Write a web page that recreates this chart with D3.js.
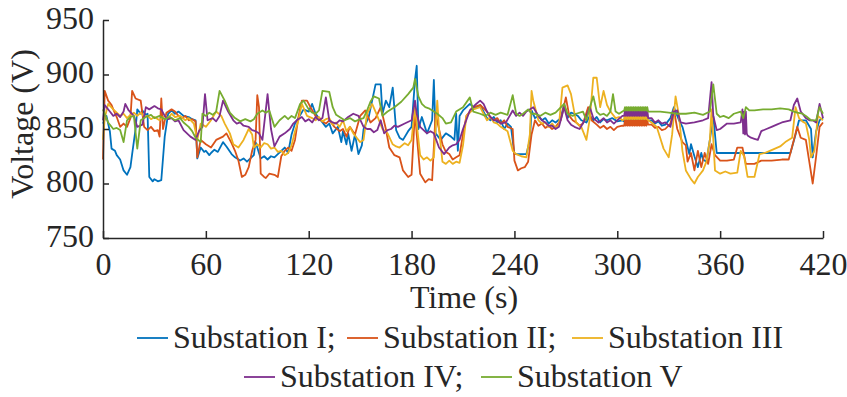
<!DOCTYPE html>
<meta charset="utf-8">
<head>
<style>
body { margin: 0; background: #fff; }
svg { display: block; }
text { font-family: "Liberation Serif", "Times New Roman", serif; fill: #262626; }
.axis text { font-size: 32px; font-family: "Liberation Serif", "Times New Roman", serif; fill: #262626; }
.axis path, .axis line { stroke: #262626; stroke-width: 1.5px; }
.series { fill: none; stroke-width: 1.8px; stroke-linejoin: round; }
</style>
<script src="https://d3js.org/d3.v7.min.js"></script>
</head>
<body>
<svg width="847" height="397"></svg>
<script>

// time (s), voltage (V)
var substationI = [[0,855],[2,862],[4,848],[5,832],[7,830],[8,826],[10,822],[11,817],[12,812],[14,808],[16,815],[17,827],[19,850],[20,868],[22,864],[23,867],[25,863],[26,864],[27,806],[29,802],[30,804],[32,802],[34,803],[36,843],[38,864],[40,867],[42,864],[44,866],[47,862],[50,861],[52,859],[54,858],[55,823],[57,833],[59,829],[60,830],[62,826],[63,828],[65,831],[67,829],[70,838],[72,834],[75,827],[77,824],[80,821],[82,823],[84,820],[86,823],[88,826],[89,838],[90,833],[92,823],[94,825],[96,822],[98,825],[100,824],[102,827],[104,830],[106,833],[108,828],[110,845],[112,855],[114,860],[117,868],[120,866],[122,873],[124,864],[127,858],[130,852],[132,855],[134,846],[137,852],[139,838],[140,848],[142,836],[143,846],[145,830],[147,845],[149,827],[151,835],[152,850],[155,861],[157,876],[159,891],[162,891],[163,864],[165,876],[167,870],[169,888],[171,849],[173,842],[175,840],[178,848],[180,852],[182,895],[183,908],[184,850],[186,861],[189,846],[192,858],[193,895],[194,846],[197,840],[200,846],[203,843],[205,840],[206,864],[207,830],[208,862],[210,867],[214,873],[217,869],[220,872],[222,866],[224,860],[226,858],[228,861],[230,856],[232,858],[234,850],[236,855],[238,852],[240,827],[243,827],[247,827],[249,840],[250,867],[252,860],[254,862],[256,858],[258,860],[260,855],[262,858],[264,856],[267,860],[269,873],[271,860],[273,865],[275,864],[277,862],[279,858],[282,856],[284,862],[286,858],[288,861],[290,856],[292,859],[294,858],[297,860],[300,857],[303,858],
  [320,858],[322,855],[324,857],[326,853],[328,854],[331,860],[333,870],[336,858],[338,852],[340,840],[342,827],[343,836],[345,825],[347,815],[349,828],[350,822],[352,820],[354,840],[356,862],[358,828],[365,828],[375,828],[385,828],[395,828],[401,828],[404,845],[406,858],[410,858],[413,850],[414,824],[416,848],[418,858],[420,860]];

var substationII = [[0,822],[1,885],[3,876],[5,872],[6,868],[8,861],[10,852],[12,855],[14,852],[16,860],[17,885],[19,878],[22,876],[24,852],[26,849],[28,852],[30,848],[32,849],[33,843],[34,878],[35,850],[37,865],[40,868],[42,866],[44,862],[46,860],[48,862],[50,858],[52,859],[54,857],[55,824],[57,840],[60,836],[63,833],[66,840],[70,843],[72,846],[75,837],[77,830],[79,821],[81,806],[83,808],[85,815],[87,830],[89,840],[90,881],[91,870],[92,809],[94,806],[95,805],[97,809],[100,808],[102,806],[104,825],[106,830],[108,833],[110,830],[112,840],[114,861],[116,876],[119,876],[121,870],[124,862],[127,858],[130,855],[132,858],[135,852],[138,848],[140,850],[142,843],[144,852],[147,845],[150,862],[153,867],[156,856],[159,860],[162,870],[165,850],[167,833],[170,826],[173,824],[175,812],[178,806],[180,808],[182,867],[183,845],[185,809],[188,801],[190,804],[192,803],[194,864],[196,850],[198,836],[200,829],[202,827],[204,822],[206,824],[208,826],[210,845],[212,862],[216,870],[220,872],[224,866],[226,860],[228,858],[230,860],[232,855],[234,858],[236,852],[239,850],[240,821],[242,812],[244,814],[246,815],[248,820],[250,845],[252,858],[254,853],[256,855],[258,851],[260,853],[262,850],[264,852],[267,858],[270,879],[272,862],[274,858],[276,856],[278,853],[280,855],[283,870],[285,858],[288,854],[290,851],[292,853],[294,850],[296,852],[298,849],[300,852],[303,853],
  [320,854],[322,851],[324,852],[326,849],[328,850],[331,855],[333,868],[335,850],[338,838],[340,835],[341,820],[343,828],[345,812],[347,830],[349,815],[351,828],[353,818],[355,836],[357,826],[360,821],[364,821],[368,822],[370,833],[373,833],[375,818],[380,818],[384,821],[390,821],[396,822],[400,822],[403,840],[405,852],[407,842],[410,840],[412,820],[414,800],[416,825],[418,852],[420,856]];

var substationIII = [[0,840],[1,860],[3,873],[6,868],[8,865],[10,862],[12,864],[14,860],[16,863],[18,865],[20,862],[22,865],[24,861],[26,862],[28,859],[30,861],[33,858],[36,862],[38,860],[40,864],[42,861],[45,862],[48,858],[50,860],[53,855],[55,840],[57,855],[60,852],[63,858],[66,866],[69,862],[71,855],[74,846],[76,836],[79,833],[82,840],[85,850],[87,845],[88,833],[90,836],[92,833],[94,837],[96,836],[98,832],[100,833],[102,829],[104,830],[106,826],[108,828],[110,835],[112,848],[114,858],[116,873],[119,862],[122,860],[124,858],[126,861],[128,857],[130,859],[132,860],[134,854],[136,856],[138,852],[140,858],[142,848],[144,852],[146,846],[148,842],[150,838],[152,840],[154,864],[157,873],[160,862],[163,850],[166,846],[169,836],[171,834],[173,833],[176,837],[178,835],[180,840],[182,870],[183,855],[185,826],[187,822],[189,824],[191,821],[193,824],[195,876],[196,850],[198,820],[200,818],[202,821],[204,818],[206,820],[208,819],[210,835],[212,862],[216,868],[220,870],[222,864],[224,858],[226,861],[228,856],[230,855],[232,852],[234,850],[236,848],[239,830],[241,827],[244,825],[247,824],[249,845],[250,885],[251,876],[254,858],[256,855],[258,856],[260,852],[262,855],[264,851],[266,854],[268,888],[271,890],[273,882],[276,856],[279,852],[282,840],[284,860],[286,897],[288,897],[290,870],[292,885],[294,872],[296,866],[299,860],[301,861],[303,858],
  [320,856],[323,852],[325,842],[327,832],[330,824],[332,845],[334,880],[336,862],[338,830],[340,812],[343,804],[345,800],[347,806],[350,812],[352,820],[354,840],[355,868],[357,812],[360,809],[363,811],[366,809],[370,810],[372,830],[374,825],[376,806],[380,806],[383,827],[386,828],[389,830],[392,832],[395,834],[398,838],[402,842],[404,870],[406,860],[408,857],[410,855],[412,840],[413,824],[415,830],[417,862],[420,858]];

var substationIV = [[0,858],[1,872],[4,866],[6,862],[8,864],[10,861],[12,866],[13,873],[15,867],[18,862],[20,852],[23,854],[25,870],[27,868],[30,871],[32,869],[34,868],[36,862],[38,859],[40,860],[42,857],[44,858],[47,849],[49,846],[51,843],[54,840],[56,848],[58,852],[59.5,882],[61,858],[64,860],[66,857],[68,862],[70,876],[73,866],[76,858],[78,855],[80,856],[82,853],[85,852],[87,849],[89,848],[91,846],[93,840],[96,882],[98,850],[100,834],[103,843],[106,846],[109,850],[111,855],[113,858],[116,861],[118,857],[120,859],[122,856],[124,861],[126,858],[128,860],[130,879],[132,858],[134,856],[136,855],[138,858],[140,857],[143,861],[146,864],[149,862],[152,852],[154,850],[156,850],[158,847],[160,849],[162,858],[164,846],[166,849],[168,850],[170,853],[172,852],[176,855],[180,858],[182,876],[183,864],[185,852],[187,849],[189,846],[191,848],[193,846],[196,833],[199,827],[202,833],[204,835],[206,836],[208,840],[210,850],[214,867],[217,872],[220,876],[222,873],[224,866],[226,861],[228,858],[230,858],[232,855],[235,856],[239,867],[241,862],[243,865],[245,862],[247,866],[251,870],[254,862],[256,858],[258,856],[260,853],[262,853],[264,850],[266,852],[269,870],[271,858],[273,854],[275,852],[278,850],[281,858],[284,870],[286,860],[289,856],[292,860],[294,856],[296,858],[298,855],[300,858],[303,862],
  [320,860],[322,856],[324,858],[326,855],[328,856],[331,852],[333,866],[335,867],[337,856],[340,855],[345,856],[350,858],[353,860],[355,893],[356,862],[358,849],[360,850],[364,855],[368,855],[372,856],[373,868],[373.5,846],[374,866],[374.5,845],[375,866],[375.5,846],[376,844],[378,842],[380,841],[382,840],[384,848],[387,850],[390,852],[393,854],[396,856],[401,858],[403,872],[405,878],[407,866],[410,860],[412,858],[414,858],[416,856],[418,873],[420,860]];

var substationV = [[0,868],[3,856],[6,850],[8,851],[10,849],[12,838],[14,858],[16,861],[18,862],[20,832],[22,858],[25,861],[28,863],[30,860],[33,862],[36,859],[39,861],[42,858],[45,860],[47,856],[50,852],[52,848],[54,842],[57,838],[58,864],[60,862],[62,865],[64,863],[66,866],[68,885],[71,876],[74,865],[77,860],[80,857],[83,859],[86,857],[88,859],[90,864],[93,867],[95,865],[97,867],[100,852],[103,858],[106,862],[108,859],[110,862],[112,860],[115,873],[117,876],[120,868],[122,865],[124,864],[126,867],[128,885],[132,884],[134,870],[136,863],[138,861],[141,858],[144,860],[147,857],[150,859],[152,860],[154,867],[156,875],[158,880],[161,878],[163,862],[166,866],[170,870],[174,875],[178,882],[181,888],[182,896],[184,880],[186,873],[188,870],[190,869],[193,866],[195,864],[198,860],[200,855],[203,856],[206,866],[210,870],[214,879],[216,866],[220,864],[223,862],[226,865],[229,863],[232,865],[236,863],[239,881],[241,864],[243,862],[245,864],[248,868],[250,864],[252,864],[255,862],[258,865],[261,863],[264,865],[269,873],[271,864],[274,862],[276,864],[280,866],[282,858],[284,870],[286,880],[288,866],[290,863],[292,864],[294,862],[296,866],[297.5,882],[299,866],[301,864],[303,866],
  [320,866],[325,866],[330,865],[335,864],[340,864],[345,865],[350,863],[354,866],[356,891],[358,864],[360,861],[362,862],[365,860],[368,864],[372,866],[373.5,860],[375,870],[377,867],[380,867],[385,868],[390,868],[395,869],[400,868],[403,866],[405,865],[408,864],[410,862],[413,858],[416,858],[418,870],[420,864]];

// fast oscillation around 300-320 s, each station in its own strip
var bandTimes = [304,304.5,305,305.5,306,306.5,307,307.5,308,308.5,309,309.5,310,310.5,311,311.5,312,312.5,313,313.5,314,314.5,315,315.5,316,316.5,317,317.5,318];
var bandI = [857,862,857,862,857,862,857,862,857,862,857,862,857,862,857,862,857,862,857,862,857,862,857,862,857,862,857,862,858];
var bandII = [853,858,853,858,853,858,853,858,853,858,853,858,853,858,853,858,853,858,853,858,853,858,853,858,853,858,853,858,854];
var bandIII = [859,864,859,864,859,864,859,864,859,864,859,864,859,864,859,864,859,864,859,864,859,864,859,864,859,864,859,864,858];
var bandIV = [862,867,862,867,862,867,862,867,862,867,862,867,862,867,862,867,862,867,862,867,862,867,862,867,862,867,862,867,860];
var bandV = [867,870,867,870,867,870,867,870,867,870,867,870,867,870,867,870,867,870,867,870,867,870,867,870,867,870,867,870,866];

var seriesNames = ["Substation I;", "Substation II;", "Substation III", "Substation IV;", "Substation V"];
var seriesColors = ["#0072BD", "#D95319", "#EDB120", "#7E2F8E", "#77AC30"];
var xTicks = [0, 60, 120, 180, 240, 300, 360, 420];
var yTicks = [750, 800, 850, 900, 950];

function withBand(series, band) {
  return series.concat(bandTimes.map(function(t, i) { return [t, band[i]]; }))
    .sort(function(a, b) { return a[0] - b[0]; });
}

var seriesData = [
  withBand(substationI, bandI),
  withBand(substationII, bandII),
  withBand(substationIII, bandIII),
  withBand(substationIV, bandIV),
  withBand(substationV, bandV)
];

var svg = d3.select("svg");

var x = d3.scaleLinear().domain([0, 420]).range([103, 823]);
var y = d3.scaleLinear().domain([750, 950]).range([238, 20]);

var line = d3.line()
    .x(function(d) { return x(d[0]); })
    .y(function(d) { return y(d[1]); });

svg.append("g")
  .selectAll("path")
  .data(seriesData)
  .enter().append("path")
    .attr("class", "series")
    .attr("stroke", function(d, i) { return seriesColors[i]; })
    .attr("d", line);

svg.append("g")
    .attr("class", "axis")
    .attr("transform", "translate(0,238)")
    .call(d3.axisBottom(x).tickValues(xTicks).tickSizeInner(-7).tickSizeOuter(0).tickPadding(14));

svg.append("g")
    .attr("class", "axis")
    .attr("transform", "translate(103,0)")
    .call(d3.axisLeft(y).tickValues(yTicks).tickSizeInner(-6).tickSizeOuter(0).tickPadding(9))
    .call(function(g) { g.selectAll("text").attr("dy", "0.26em"); });

svg.selectAll(".axis").attr("font-size", null).attr("font-family", null);

svg.append("text")
    .attr("x", 464)
    .attr("y", 308)
    .attr("text-anchor", "middle")
    .attr("font-size", 32)
    .text("Time (s)");

svg.append("text")
    .attr("transform", "translate(33,124) rotate(-90)")
    .attr("text-anchor", "middle")
    .attr("font-size", 32)
    .text("Voltage (V)");

// legend: two centred rows like the figure
var legendPos = [[137, 338], [347, 338], [572, 338], [244, 377], [481, 377]];

var legend = svg.append("g")
  .selectAll("g")
  .data(seriesNames)
  .enter().append("g")
    .attr("transform", function(d, i) { return "translate(" + legendPos[i][0] + "," + legendPos[i][1] + ")"; });

legend.append("line")
    .attr("x1", 0)
    .attr("x2", 31)
    .attr("stroke", function(d, i) { return seriesColors[i]; })
    .attr("stroke-width", 1.8);

legend.append("text")
    .attr("x", 36)
    .attr("y", 10)
    .attr("font-size", 32)
    .text(function(d) { return d; });

</script>
</body>
